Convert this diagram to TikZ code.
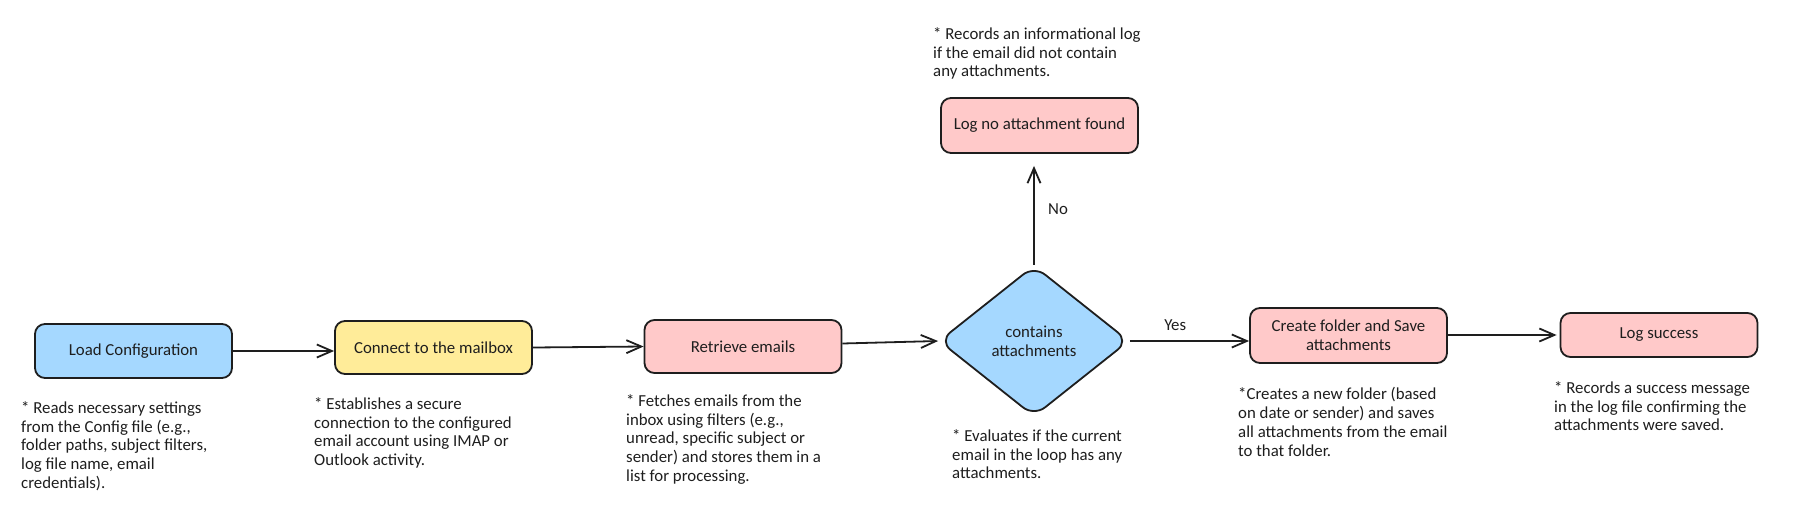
\documentclass[tikz,border=0pt]{standalone}
\usepackage{fontspec}
\setmainfont{Carlito}
\usetikzlibrary{shapes.geometric,arrows.meta,positioning}
\definecolor{ink}{HTML}{1E1E1E}
\definecolor{skyfill}{HTML}{A5D8FF}
\definecolor{sandfill}{HTML}{FFEC99}
\definecolor{rosefill}{HTML}{FFC9C9}

\begin{document}
\begin{tikzpicture}[x=1pt,y=-1pt,
        every node/.style={font=\fontsize{16.8}{18.9}\selectfont, text=ink},
        stepbox/.style={draw=ink, line width=1.8pt, rounded corners=10pt, minimum width=197pt, inner sep=2pt, align=center},
        note/.style={anchor=north west, inner sep=0pt, align=left},
        flow/.style={draw=ink, line width=1.8pt, -{Straight Barb[length=15pt,width=13pt]}}]
        \fill[white] (0,0) rectangle (1796,512);
        \useasboundingbox (0,0) rectangle (1796,512);
        % steps
        \node[stepbox, fill=skyfill, minimum height=54pt] (load) at (133.5,351) {Load Configuration};
        \node[stepbox, fill=sandfill, minimum height=53pt] (connect) at (433.5,347.5) {Connect to the mailbox};
        \node[stepbox, fill=rosefill, minimum height=53pt] (retrieve) at (743,346.5) {Retrieve emails};
        \node[diamond, draw=ink, line width=1.8pt, fill=skyfill, rounded corners=14pt, minimum width=190pt, minimum height=151pt, inner sep=0pt, align=center] (check) at (1034,341) {contains\\attachments};
        \node[stepbox, fill=rosefill, minimum height=55pt] (create) at (1348.5,335.5) {Create folder and Save\\attachments};
        \node[stepbox, fill=rosefill, minimum height=44pt] (success) at (1659,335) {Log success};
        \node[stepbox, fill=rosefill, minimum height=55pt] (nolog) at (1039.5,125.5) {Log no attachment found};
        % notes
        \node[note] (loadnote) at (21,401) {* Reads necessary settings\\from the Config file (e.g.,\\folder paths, subject filters,\\log file name, email\\credentials).};
        \node[note] (connectnote) at (314,397) {* Establishes a secure\\connection to the configured\\email account using IMAP or\\Outlook activity.};
        \node[note] (retrievenote) at (626,394) {* Fetches emails from the\\inbox using filters (e.g.,\\unread, specific subject or\\sender) and stores them in a\\list for processing.};
        \node[note] (checknote) at (952,429) {* Evaluates if the current\\email in the loop has any\\attachments.};
        \node[note] (createnote) at (1238,387) {*Creates a new folder (based\\on date or sender) and saves\\all attachments from the email\\to that folder.};
        \node[note] (successnote) at (1554,381) {* Records a success message\\in the log file confirming the\\attachments were saved.};
        \node[note] (nolognote) at (933,27) {* Records an informational log\\if the email did not contain\\any attachments.};
        % connectors
        \draw[flow] (load.east) -- (load.east -| connect.west);
        \draw[flow] (connect.east) -- (retrieve.west);
        \draw[flow] (retrieve.east) ++(0,-3) -- (check.west);
        \draw[flow] (check.east) -- node[above=6pt, pos=0.38]{Yes} (check.east -| create.west);
        \draw[flow, shorten >=3pt] (success.west -| create.east) -- (success.west);
        \draw[flow, shorten >=12pt] (check.north) -- node[right=10pt]{No} (check.north |- nolog.south);
    \end{tikzpicture}
\end{document}
